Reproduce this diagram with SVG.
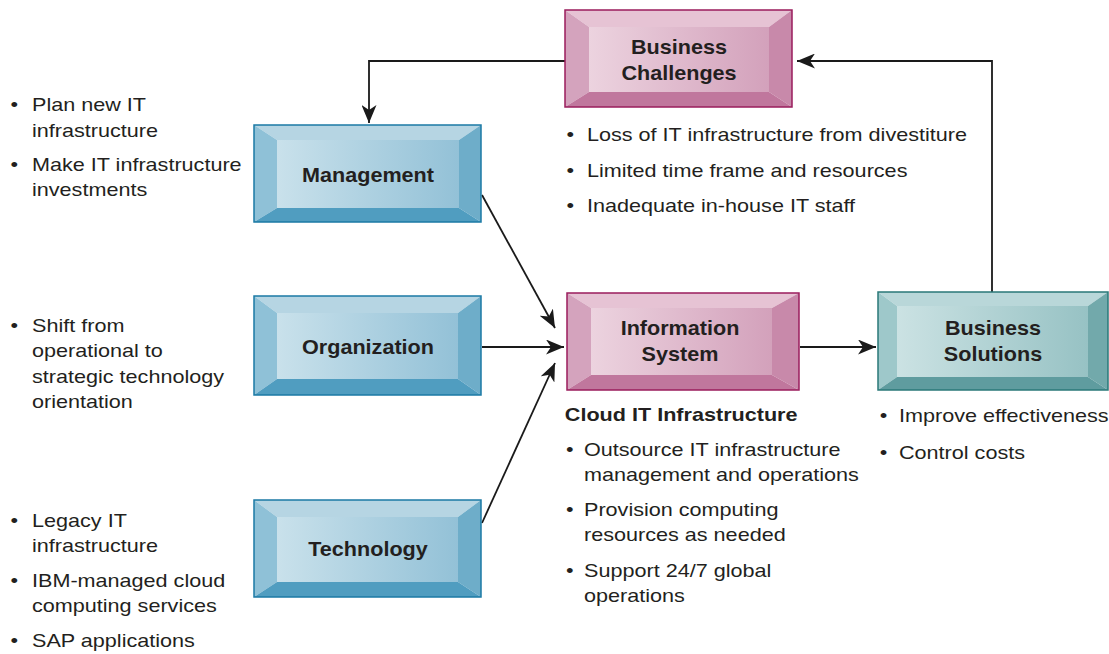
<svg xmlns="http://www.w3.org/2000/svg" width="1109" height="654" viewBox="0 0 1109 654">
<defs>
<linearGradient id="gBlue" x1="0" y1="0" x2="1" y2="0"><stop offset="0" stop-color="#c9e1eb"/><stop offset="1" stop-color="#93c1d7"/></linearGradient>
<linearGradient id="gPink" x1="0" y1="0" x2="1" y2="0"><stop offset="0" stop-color="#ecd3df"/><stop offset="1" stop-color="#d3a1bb"/></linearGradient>
<linearGradient id="gTeal" x1="0" y1="0" x2="1" y2="0"><stop offset="0" stop-color="#cbe2e3"/><stop offset="1" stop-color="#97c2c4"/></linearGradient>
<marker id="arr" markerWidth="19" markerHeight="15" refX="18" refY="7.5" orient="auto" markerUnits="userSpaceOnUse"><path d="M0,0 L18,7.5 L0,15 L5,7.5 z" fill="#1a1a1a"/></marker>
<style>
.t{font-family:"Liberation Sans",Arial,sans-serif;font-size:18px;fill:#231f20}
.b{font-family:"Liberation Sans",Arial,sans-serif;font-size:20px;font-weight:bold;fill:#231f20;text-anchor:middle}
.h{font-family:"Liberation Sans",Arial,sans-serif;font-size:18px;font-weight:bold;fill:#231f20}
.ln{fill:none;stroke:#1a1a1a;stroke-width:1.8}
.blue .tp{fill:#b6d5e3}.blue .lf{fill:#8fc1d7}.blue .rt{fill:#6eadc9}.blue .bt{fill:#509dc0}.blue .in{fill:url(#gBlue)}.blue .ol{fill:none;stroke:#1b7aa5;stroke-width:1.5}
.pink .tp{fill:#e6c3d4}.pink .lf{fill:#d4a3bd}.pink .rt{fill:#c889aa}.pink .bt{fill:#c0779d}.pink .in{fill:url(#gPink)}.pink .ol{fill:none;stroke:#9a1d5c;stroke-width:1.5}
.teal .tp{fill:#b9d7d9}.teal .lf{fill:#9ec8ca}.teal .rt{fill:#72a9ab}.teal .bt{fill:#5f9c9f}.teal .in{fill:url(#gTeal)}.teal .ol{fill:none;stroke:#2a7878;stroke-width:1.5}
</style>
</defs>
<rect width="1109" height="654" fill="#ffffff"/>

<g id="connectors">
<path class="ln" d="M565,61 H369 V123" marker-end="url(#arr)"/>
<path class="ln" d="M992,292 V61 H797" marker-end="url(#arr)"/>
<path class="ln" d="M482,195 L555,328" marker-end="url(#arr)"/>
<path class="ln" d="M482,347 L564,347" marker-end="url(#arr)"/>
<path class="ln" d="M482,523 L555,363" marker-end="url(#arr)"/>
<path class="ln" d="M800,347 L876,347" marker-end="url(#arr)"/>
</g>

<g id="management" class="blue">
<polygon class="tp" points="254,125 481,125 459,140 277,140"/>
<polygon class="lf" points="254,125 277,140 277,208 254,222"/>
<polygon class="rt" points="481,125 481,222 459,208 459,140"/>
<polygon class="bt" points="254,222 277,208 459,208 481,222"/>
<rect class="in" x="277" y="140" width="182" height="68"/>
<rect class="ol" x="254" y="125" width="227" height="97"/>
<g transform="translate(368,0) scale(1.08,1)"><text class="b" x="0" y="182">Management</text></g>
</g>

<g id="organization" class="blue">
<polygon class="tp" points="254,296 481,296 458,313 277,313"/>
<polygon class="lf" points="254,296 277,313 277,379 254,395"/>
<polygon class="rt" points="481,296 481,395 458,379 458,313"/>
<polygon class="bt" points="254,395 277,379 458,379 481,395"/>
<rect class="in" x="277" y="313" width="181" height="66"/>
<rect class="ol" x="254" y="296" width="227" height="99"/>
<g transform="translate(368,0) scale(1.08,1)"><text class="b" x="0" y="354">Organization</text></g>
</g>

<g id="technology" class="blue">
<polygon class="tp" points="254,500 481,500 458,517 277,517"/>
<polygon class="lf" points="254,500 277,517 277,582 254,597"/>
<polygon class="rt" points="481,500 481,597 458,582 458,517"/>
<polygon class="bt" points="254,597 277,582 458,582 481,597"/>
<rect class="in" x="277" y="517" width="181" height="65"/>
<rect class="ol" x="254" y="500" width="227" height="97"/>
<g transform="translate(368,0) scale(1.08,1)"><text class="b" x="0" y="556">Technology</text></g>
</g>

<g id="business-challenges" class="pink">
<polygon class="tp" points="565,10 792,10 769,27 589,27"/>
<polygon class="lf" points="565,10 589,27 589,92 565,107"/>
<polygon class="rt" points="792,10 792,107 769,92 769,27"/>
<polygon class="bt" points="565,107 589,92 769,92 792,107"/>
<rect class="in" x="589" y="27" width="180" height="65"/>
<rect class="ol" x="565" y="10" width="227" height="97"/>
<g transform="translate(679,0) scale(1.08,1)"><text class="b" x="0" y="54">Business</text>
<text class="b" x="0" y="80">Challenges</text></g>
</g>

<g id="information-system" class="pink">
<polygon class="tp" points="567,293 799,293 772,308 591,308"/>
<polygon class="lf" points="567,293 591,308 591,375 567,390"/>
<polygon class="rt" points="799,293 799,390 772,375 772,308"/>
<polygon class="bt" points="567,390 591,375 772,375 799,390"/>
<rect class="in" x="591" y="308" width="181" height="67"/>
<rect class="ol" x="567" y="293" width="232" height="97"/>
<g transform="translate(680,0) scale(1.08,1)"><text class="b" x="0" y="335">Information</text>
<text class="b" x="0" y="361">System</text></g>
</g>

<g id="business-solutions" class="teal">
<polygon class="tp" points="878,292 1108,292 1088,306 897,306"/>
<polygon class="lf" points="878,292 897,306 897,377 878,390"/>
<polygon class="rt" points="1108,292 1108,390 1088,377 1088,306"/>
<polygon class="bt" points="878,390 897,377 1088,377 1108,390"/>
<rect class="in" x="897" y="306" width="191" height="71"/>
<rect class="ol" x="878" y="292" width="230" height="98"/>
<g transform="translate(993,0) scale(1.08,1)"><text class="b" x="0" y="335">Business</text>
<text class="b" x="0" y="361">Solutions</text></g>
</g>

<g id="management-notes" transform="translate(32,0) scale(1.2,1)">
<text class="t" x="-18" y="111">•</text><text class="t" x="0" y="111">Plan new IT</text>
<text class="t" x="0" y="137">infrastructure</text>
<text class="t" x="-18" y="171">•</text><text class="t" x="0" y="171">Make IT infrastructure</text>
<text class="t" x="0" y="196">investments</text>
</g>

<g id="organization-notes" transform="translate(32,0) scale(1.2,1)">
<text class="t" x="-18" y="332">•</text><text class="t" x="0" y="332">Shift from</text>
<text class="t" x="0" y="357">operational to</text>
<text class="t" x="0" y="383">strategic technology</text>
<text class="t" x="0" y="408">orientation</text>
</g>

<g id="technology-notes" transform="translate(32,0) scale(1.2,1)">
<text class="t" x="-18" y="527">•</text><text class="t" x="0" y="527">Legacy IT</text>
<text class="t" x="0" y="552">infrastructure</text>
<text class="t" x="-18" y="587">•</text><text class="t" x="0" y="587">IBM-managed cloud</text>
<text class="t" x="0" y="612">computing services</text>
<text class="t" x="-18" y="647">•</text><text class="t" x="0" y="647">SAP applications</text>
</g>

<g id="challenges-notes" transform="translate(587,0) scale(1.2,1)">
<text class="t" x="-17" y="141">•</text><text class="t" x="0" y="141">Loss of IT infrastructure from divestiture</text>
<text class="t" x="-17" y="177">•</text><text class="t" x="0" y="177">Limited time frame and resources</text>
<text class="t" x="-17" y="212">•</text><text class="t" x="0" y="212">Inadequate in-house IT staff</text>
</g>

<g id="is-notes" transform="translate(584,0) scale(1.2,1)">
<text class="h" x="-16" y="421">Cloud IT Infrastructure</text>
<text class="t" x="-15" y="456">•</text><text class="t" x="0" y="456">Outsource IT infrastructure</text>
<text class="t" x="0" y="481">management and operations</text>
<text class="t" x="-15" y="516">•</text><text class="t" x="0" y="516">Provision computing</text>
<text class="t" x="0" y="541">resources as needed</text>
<text class="t" x="-15" y="577">•</text><text class="t" x="0" y="577">Support 24/7 global</text>
<text class="t" x="0" y="602">operations</text>
</g>

<g id="solutions-notes" transform="translate(899,0) scale(1.2,1)">
<text class="t" x="-16" y="422">•</text><text class="t" x="0" y="422">Improve effectiveness</text>
<text class="t" x="-16" y="459">•</text><text class="t" x="0" y="459">Control costs</text>
</g>
</svg>
